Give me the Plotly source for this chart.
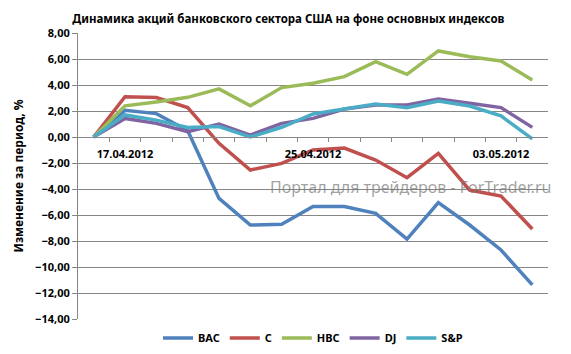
import plotly.graph_objects as go

dates = ["16.04.2012", "17.04.2012", "18.04.2012", "19.04.2012", "20.04.2012",
         "23.04.2012", "24.04.2012", "25.04.2012", "26.04.2012", "27.04.2012",
         "30.04.2012", "01.05.2012", "02.05.2012", "03.05.2012", "04.05.2012"]

bac = [0, 2.05, 1.8, 0.5, -4.72, -6.77, -6.72, -5.35, -5.35, -5.87, -7.85, -5.05, -6.77, -8.69, -11.38]
c = [0, 3.1, 3.03, 2.26, -0.49, -2.54, -2.03, -1.0, -0.85, -1.77, -3.13, -1.26, -4.08, -4.54, -7.08]
hbc = [0, 2.4, 2.7, 3.05, 3.7, 2.4, 3.8, 4.13, 4.64, 5.8, 4.82, 6.62, 6.18, 5.85, 4.38]
dj = [0, 1.43, 1.05, 0.41, 1.0, 0.15, 1.05, 1.43, 2.15, 2.46, 2.46, 2.92, 2.59, 2.26, 0.74]
sp = [0, 1.7, 1.3, 0.74, 0.8, 0.0, 0.75, 1.77, 2.15, 2.54, 2.26, 2.77, 2.38, 1.62, -0.15]

series = [("BAC", bac, "#4F81BD"), ("C", c, "#C0504D"), ("HBC", hbc, "#9BBB59"),
          ("DJ", dj, "#8064A2"), ("S&P", sp, "#4BACC6")]

y_ticks = list(range(-14, 9, 2))
x = list(range(len(dates)))
label_idx = x[1::6]

fig = go.Figure()
for name, vals, col in series:
    fig.add_trace(go.Scatter(x=x, y=vals, name=name, mode="lines",
                             line=dict(color=col, width=3.5)))

grid = "#868686"
fig.update_layout(
    width=571, height=354,
    margin=dict(l=78, r=23, t=33, b=35, autoexpand=False),
    paper_bgcolor="white", plot_bgcolor="white",
    separators=", ",
    font=dict(family="Noto Sans", color="#000000"),
    title=dict(text="Динамика акций банковского сектора США на фоне основных индексов",
               x=0.505, xanchor="center", y=0.945, yanchor="middle",
               font=dict(size=11.5, weight="bold", family="Noto Sans")),
    showlegend=True,
    legend=dict(orientation="h", x=0.5, xanchor="center", y=0.045, yanchor="middle",
                yref="container", font=dict(size=11, weight="bold"),
                itemwidth=30, tracegroupgap=0),
    xaxis=dict(range=[-0.5, len(dates) - 0.5], anchor="free", position=14 / 22,
               showgrid=False, zeroline=False, showline=True, linecolor=grid, linewidth=1,
               tickmode="array", tickvals=label_idx, ticktext=[dates[i] for i in label_idx],
               ticks="", ticklabelstandoff=7,
               tickfont=dict(size=11, weight="bold"),
               minor=dict(tickmode="array", tickvals=[i + 0.5 for i in x[:-1]],
                          ticks="outside", ticklen=4, tickcolor=grid, showgrid=False)),
    yaxis=dict(range=[-14, 8], domain=[0, 1], tickmode="array", tickvals=y_ticks,
               tickformat=".2f", showgrid=True, gridcolor=grid, gridwidth=1,
               zeroline=False, showline=True, linecolor=grid, linewidth=1,
               ticks="outside", ticklen=5, tickcolor=grid,
               tickfont=dict(size=11, weight="bold"),
               title=dict(text="Изменение за период, %", standoff=8,
                          font=dict(size=12, weight="bold"))),
)

fig.add_annotation(text="Портал для трейдеров - ForTrader.ru", xref="paper", yref="paper",
                   x=0.708, y=0.462, xanchor="center", yanchor="middle", showarrow=False,
                   font=dict(size=16, color="rgba(120,120,120,0.7)", family="Noto Sans"))

fig.write_html("out.html")
